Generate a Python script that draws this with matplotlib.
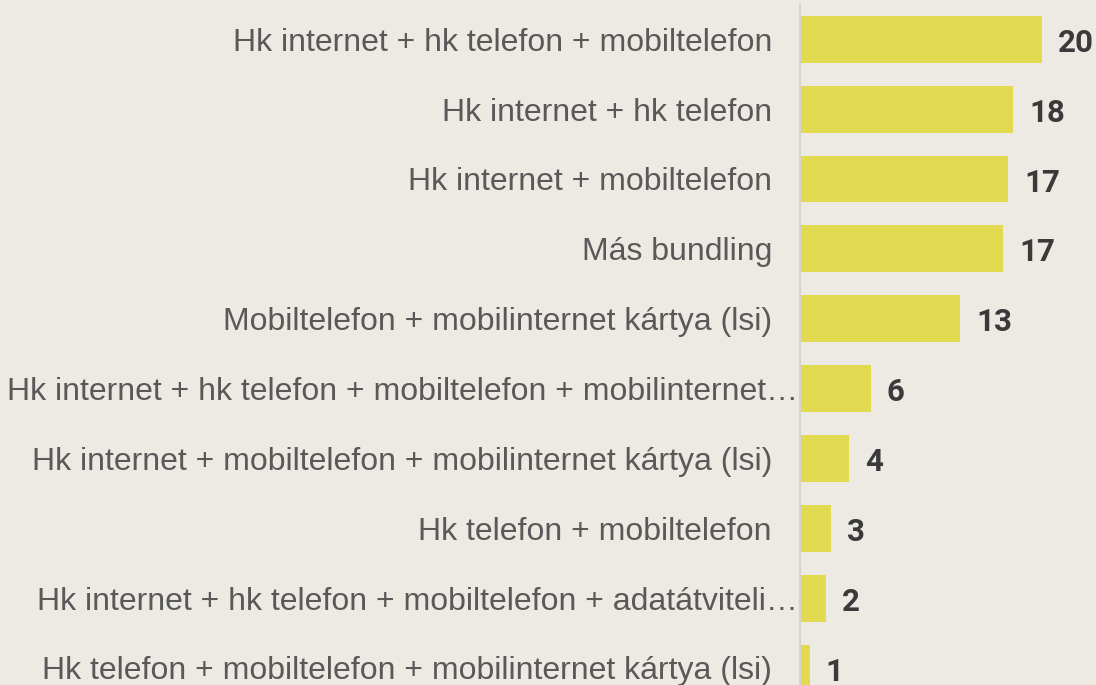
import matplotlib
matplotlib.use("Agg")
import matplotlib.pyplot as plt

categories = [
    "Hk internet + hk telefon + mobiltelefon",
    "Hk internet + hk telefon",
    "Hk internet + mobiltelefon",
    "Más bundling",
    "Mobiltelefon + mobilinternet kártya (lsi)",
    "Hk internet + hk telefon + mobiltelefon + mobilinternet…",
    "Hk internet + mobiltelefon + mobilinternet kártya (lsi)",
    "Hk telefon + mobiltelefon",
    "Hk internet + hk telefon + mobiltelefon + adatátviteli…",
    "Hk telefon + mobiltelefon + mobilinternet kártya (lsi)",
]
values = [20.2, 17.8, 17.4, 17.0, 13.4, 5.9, 4.1, 2.6, 2.2, 0.8]

BG = "#EDEAE4"
BAR = "#E2DA50"
LABEL = "#595959"
VALUE = "#3A3A3A"
AXIS = "#D6D3CD"

W, H, DPI = 1096, 685, 100
PX_PER_PT = DPI / 72
fig = plt.figure(figsize=(W / DPI, H / DPI), dpi=DPI, facecolor=BG)

x0 = 800
ax = fig.add_axes([x0 / W, 0, (W - x0) / W, 680 / H])
ax.set_facecolor(BG)

ypos = list(range(len(categories)))
ax.barh(ypos, values, height=0.67, color=BAR, zorder=2)

ax.set_xlim(0, (W - x0) / 11.96)
ax.set_ylim(9.244, -0.491)

for s in ("top", "right", "bottom"):
    ax.spines[s].set_visible(False)
ax.spines["left"].set_color(AXIS)
ax.spines["left"].set_linewidth(1.5)
ax.set_xticks([])
ax.set_yticks([])

cat_size = 23.0
val_size = 22.5
# baseline offsets so capitals / digits sit centred on each bar
cat_drop = 0.716 * cat_size * PX_PER_PT / 2
val_drop = 0.711 * val_size * PX_PER_PT / 2 + 1.5

for y, (cat, v) in enumerate(zip(categories, values)):
    pad = -2 if cat.endswith("…") else -28
    ax.annotate(cat, xy=(0, y), xycoords=("data", "data"),
                xytext=(pad, -cat_drop), textcoords="offset pixels",
                ha="right", va="baseline", fontsize=cat_size,
                family="Liberation Sans", color=LABEL, annotation_clip=False)
    ax.annotate(f"{v:.0f}", xy=(v, y), xytext=(16, -val_drop),
                textcoords="offset pixels", ha="left", va="baseline",
                fontsize=val_size, fontweight="bold", family="Roboto",
                color=VALUE, annotation_clip=False)

fig.savefig("out.png", dpi=DPI, facecolor=BG)
